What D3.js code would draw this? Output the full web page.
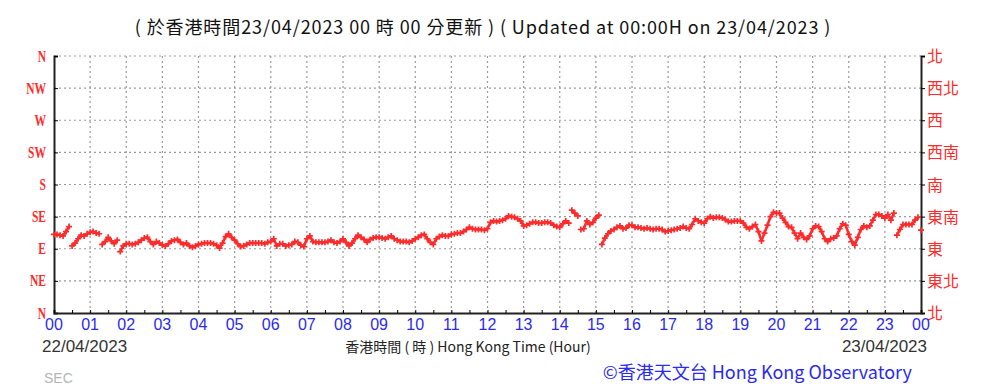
<!DOCTYPE html>
<html>
<head>
<meta charset="utf-8">
<script src="https://cdn.jsdelivr.net/npm/d3@7"></script>
<style>
  body { margin: 0; background: #fff; }
  svg { display: block; }
</style>
</head>
<body>
<svg id="chart" width="983" height="388"></svg>
<script>
// wind direction (degrees) every 5 minutes, 00:00 -> 24:00, one row per hour
var windDir = [
  110,110,109,108,114,121, 94, 98,104,109,108,111,   // 00
  113,114,112,111, 96,100,106,101, 97,102, 86, 94,   // 01
   97, 97, 96, 97, 99,102,105,106,100, 96,100, 98,   // 02
   95, 94, 97,101,102,103, 99, 96, 98, 94, 92, 94,   // 03
   96, 97, 98, 98, 98, 97, 95, 91, 98,107,111,106,   // 04
  102, 97, 93, 94, 96, 98, 98, 98, 98, 98, 97, 99,   // 05
  100,104, 94, 97, 97, 94, 95, 96,100, 99, 95, 93,   // 06
  104,108,100, 99, 99, 99, 99,100,102, 99, 98,100,   // 07
  104, 99, 94, 98,104,109,106,103, 99,103,105,106,   // 08
  106,105,104,106,108,104,102,100,100,100, 99,101,   // 09
  104,106,109,110,104, 99, 96,104,107,109,108,108,   // 10
  110,111,112,112,114,117,120,118,117,117,117,116,   // 11
  118,127,129,128,129,130,132,136,135,134,132,129,   // 12
  122,123,125,127,127,126,126,127,127,126,123,121,   // 13
  120,125,129,126,144,140,136,117,118,129,124,127,   // 14
  133,137, 96,105,111,115,117,120,122,118,119,123,   // 15
  123,120,120,119,118,119,118,117,118,118,117,114,   // 16
  115,116,117,118,119,121,119,118,124,132,129,127,   // 17
  126,132,135,133,134,134,133,131,128,128,129,129,   // 18
  129,126,120,118,121,124,114,101,112,123,135,141,   // 19
  140,140,133,127,121,120,112,104,112,106,103,108,   // 20
  118,122,121,114,104,100,104,105,108,118,125,123,   // 21
  110,100, 95,106,117,122,120,122,130,138,138,136,   // 22
  133,138,130,140,109,117,124,124,124,124,130,134,   // 23
  116                                                // 24
];
var stepMinutes = 5;

var dirValues = [0, 45, 90, 135, 180, 225, 270, 315, 360];
var dirLabelsEn = ["N", "NE", "E", "SE", "S", "SW", "W", "NW", "N"];
var dirLabelsZh = ["北", "東北", "東", "東南", "南", "西南", "西", "西北", "北"];
var hourTicks = d3.range(0, 25);
var hourLabels = hourTicks.map(function(h) { return h === 24 ? "00" : d3.format("02d")(h); });

var titleText = "( 於香港時間23/04/2023 00 時 00 分更新 ) ( Updated at 00:00H on 23/04/2023 )";
var startDate = "22/04/2023";
var endDate = "23/04/2023";
var axisTitle = "香港時間 ( 時 ) Hong Kong Time (Hour)";

var svg = d3.select("#chart");
var plotL = 54, plotR = 921, plotT = 56, plotB = 313;

var x = d3.scaleLinear().domain([0, 24]).range([plotL, plotR]);
var y = d3.scaleLinear().domain([0, 360]).range([plotB, plotT]);

var red = "#ff2b2b", blue = "#2a2af0";

// grid
svg.append("g").selectAll("line")
  .data(dirValues.slice(1))
  .enter().append("line")
  .attr("x1", plotL).attr("x2", plotR)
  .attr("y1", function(d) { return y(d); }).attr("y2", function(d) { return y(d); })
  .attr("stroke", "#9a9a9a").attr("stroke-width", 1.2).attr("stroke-dasharray", "2,3");

svg.append("g").selectAll("line")
  .data(hourTicks.slice(1, 24))
  .enter().append("line")
  .attr("x1", function(d) { return x(d); }).attr("x2", function(d) { return x(d); })
  .attr("y1", plotT).attr("y2", plotB)
  .attr("stroke", "#9a9a9a").attr("stroke-width", 1.2).attr("stroke-dasharray", "2,3");

// axes
function styleDomain(g) {
  g.select(".domain").attr("stroke-width", 2).attr("stroke", "#222");
}
var leftAxis = d3.axisRight(y).tickValues(dirValues).tickSize(4).tickFormat("");
svg.append("g").attr("transform", "translate(" + plotL + ",0)").call(leftAxis).call(styleDomain);

var rightAxis = d3.axisRight(y).tickValues(dirValues).tickSize(4).tickFormat("");
svg.append("g").attr("transform", "translate(" + plotR + ",0)").call(rightAxis).call(styleDomain);

var bottomAxis = d3.axisTop(x).ticks(48).tickSize(3).tickFormat("");
svg.append("g").attr("transform", "translate(0," + plotB + ")").call(bottomAxis).call(styleDomain);

// axis labels (left ones are a narrow serif face)
svg.append("g").selectAll("text")
  .data(dirValues)
  .enter().append("text")
  .attr("transform", function(d) { return "translate(" + (plotL - 8) + "," + (y(d) + 5.5) + ") scale(0.72,1)"; })
  .attr("text-anchor", "end")
  .attr("font-family", "Liberation Serif, serif").attr("font-size", 16)
  .attr("font-weight", "bold")
  .attr("fill", red)
  .text(function(d, i) { return dirLabelsEn[i]; });

svg.append("g").selectAll("text")
  .data(dirValues)
  .enter().append("text")
  .attr("x", plotR + 6).attr("y", function(d) { return y(d) + 6; })
  .attr("font-family", "Noto Sans CJK TC, sans-serif").attr("font-size", 16)
  .attr("fill", red)
  .text(function(d, i) { return dirLabelsZh[i]; });

svg.append("g").selectAll("text")
  .data(hourTicks)
  .enter().append("text")
  .attr("x", function(d) { return x(d); }).attr("y", plotB + 17)
  .attr("text-anchor", "middle")
  .attr("font-family", "Liberation Sans, Arial, sans-serif").attr("font-size", 16)
  .attr("fill", blue)
  .text(function(d, i) { return hourLabels[i]; });

// data
var points = windDir.map(function(v, i) { return { h: i * stepMinutes / 60, v: v }; });

var segs = svg.append("g");
for (var i = 1; i < points.length; i++) {
  var a = points[i - 1], b = points[i];
  if (Math.abs(a.v - b.v) > 14) continue;
  segs.append("line")
    .attr("x1", x(a.h)).attr("y1", y(a.v))
    .attr("x2", x(b.h)).attr("y2", y(b.v))
    .attr("stroke", red).attr("stroke-width", 2.6);
}

svg.append("g").selectAll("path")
  .data(points)
  .enter().append("path")
  .attr("transform", function(d) { return "translate(" + x(d.h) + "," + y(d.v) + ")"; })
  .attr("d", "M-3,0H3M0,-3V3")
  .attr("stroke", red).attr("stroke-width", 1.7).attr("fill", "none");

// texts
svg.append("text")
  .attr("x", 483).attr("y", 34).attr("text-anchor", "middle")
  .attr("font-family", "Noto Sans CJK TC, sans-serif").attr("font-size", 18)
  .attr("letter-spacing", 0.9)
  .attr("fill", "#111")
  .text(titleText);

svg.append("text")
  .attr("x", 42).attr("y", 352)
  .attr("font-family", "Liberation Sans, Arial, sans-serif").attr("font-size", 17)
  .attr("fill", "#333")
  .text(startDate);

svg.append("text")
  .attr("x", 927).attr("y", 352).attr("text-anchor", "end")
  .attr("font-family", "Liberation Sans, Arial, sans-serif").attr("font-size", 17)
  .attr("fill", "#333")
  .text(endDate);

svg.append("text")
  .attr("x", 468).attr("y", 352).attr("text-anchor", "middle")
  .attr("font-family", "Noto Sans CJK TC, sans-serif").attr("font-size", 14)
  .attr("fill", "#222")
  .text(axisTitle);

svg.append("text")
  .attr("x", 44).attr("y", 383)
  .attr("font-family", "Liberation Sans, Arial, sans-serif").attr("font-size", 14)
  .attr("fill", "#b5b5b5")
  .text("SEC");

svg.append("text")
  .attr("x", 912).attr("y", 379).attr("text-anchor", "end")
  .attr("font-family", "Noto Sans CJK TC, sans-serif").attr("font-size", 18)
  .attr("fill", blue)
  .text("©香港天文台 Hong Kong Observatory");
</script>
</body>
</html>
